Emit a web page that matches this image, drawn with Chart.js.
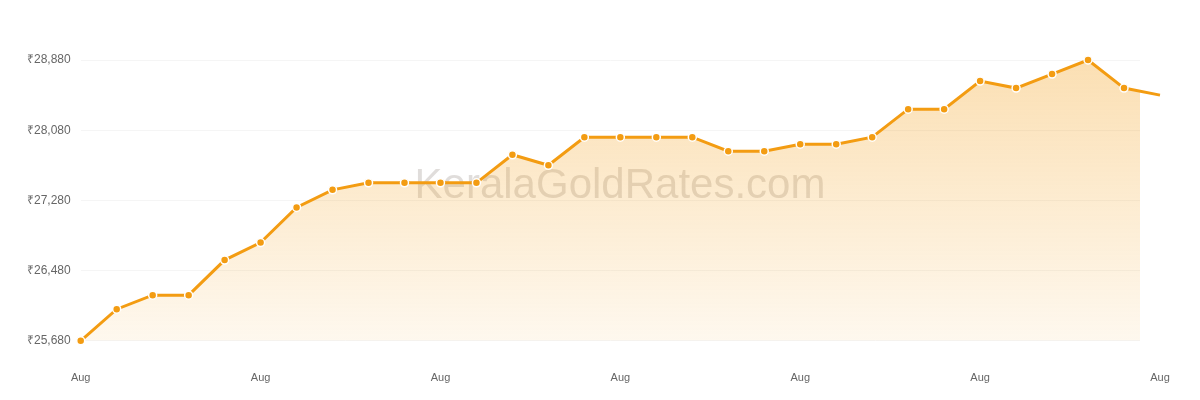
<!DOCTYPE html>
<html>
<head>
<meta charset="utf-8">
<script src="https://cdn.jsdelivr.net/npm/chart.js@4"></script>
<style>
  html, body { margin: 0; padding: 0; background: #fff; }
  #wrap { position: relative; width: 1200px; height: 400px; }
</style>
</head>
<body>
<div id="wrap"><canvas id="goldChart"></canvas></div>
<script>
// August rates (8 gram)
const days = ['Aug 1','Aug 2','Aug 3','Aug 4','Aug 5','Aug 6','Aug 7','Aug 8','Aug 9','Aug 10',
  'Aug 11','Aug 12','Aug 13','Aug 14','Aug 15','Aug 16','Aug 17','Aug 18','Aug 19','Aug 20',
  'Aug 21','Aug 22','Aug 23','Aug 24','Aug 25','Aug 26','Aug 27','Aug 28','Aug 29','Aug 30','Aug 31'];
const rates = [25680, 26040, 26200, 26200, 26600, 26800, 27200, 27400, 27480, 27480,
  27480, 27480, 27800, 27680, 28000, 28000, 28000, 28000, 27840, 27840,
  27920, 27920, 28000, 28320, 28320, 28640, 28560, 28720, 28880, 28560, 28480];
const yTicks = [25680, 26480, 27280, 28080, 28880];
const xTickLabel = 'Aug';

// watermark, drawn under the line
const watermark = {
  id: 'watermark',
  beforeDatasetsDraw(chart) {
    const { ctx } = chart;
    ctx.save();
    ctx.font = '42px "Liberation Sans", Arial, sans-serif';
    ctx.fillStyle = 'rgba(130,120,110,0.25)';
    ctx.textAlign = 'center';
    ctx.textBaseline = 'middle';
    ctx.fillText('KeralaGoldRates.com', 620, 186);
    ctx.restore();
  }
};

const ctx = document.getElementById('goldChart');
const points = rates.map((v, i) => ({ x: i, y: v }));

var goldChart = new Chart(ctx, {
  type: 'line',
  data: {
    datasets: [{
      label: 'Gold rate',
      data: points,
      borderColor: '#f39c12',
      borderWidth: 3,
      pointBackgroundColor: '#f39c12',
      pointBorderColor: '#fff',
      pointBorderWidth: 1.5,
      pointRadius: 4,
      tension: 0,
      fill: 'start',
      clip: false,
      backgroundColor: (c) => {
        const area = c.chart.chartArea;
        if (!area) return 'rgba(243,156,18,0.2)';
        const g = c.chart.ctx.createLinearGradient(0, area.top, 0, area.bottom);
        g.addColorStop(0, 'rgba(243,156,18,0.32)');
        g.addColorStop(1, 'rgba(243,156,18,0.07)');
        return g;
      }
    }]
  },
  options: {
    responsive: true,
    maintainAspectRatio: false,
    animation: false,
    layout: { padding: { top: 60, right: 60, bottom: -8, left: 17 } },
    plugins: { legend: { display: false }, tooltip: { enabled: false } },
    scales: {
      x: {
        type: 'linear',
        min: 0,
        max: 1060 / 36,
        afterBuildTicks: (scale) => {
          scale.ticks = [0, 5, 10, 15, 20, 25, 30].map(v => ({ value: v }));
        },
        grid: { display: false },
        border: { display: false },
        ticks: {
          color: '#666',
          font: { family: '"Liberation Sans", Arial, sans-serif', size: 11 },
          padding: 23,
          maxRotation: 0,
          callback: () => xTickLabel
        }
      },
      y: {
        min: yTicks[0],
        max: yTicks[yTicks.length - 1],
        afterBuildTicks: (scale) => {
          scale.ticks = yTicks.map(v => ({ value: v }));
        },
        grid: { color: '#f5f5f5', drawTicks: false },
        border: { display: false },
        ticks: {
          color: '#666',
          font: { family: '"Liberation Sans", Arial, sans-serif', size: 12 },
          padding: 10,
          callback: (v) => '₹' + v.toLocaleString('en-US')
        }
      }
    }
  },
  plugins: [watermark]
});
</script>
</body>
</html>
